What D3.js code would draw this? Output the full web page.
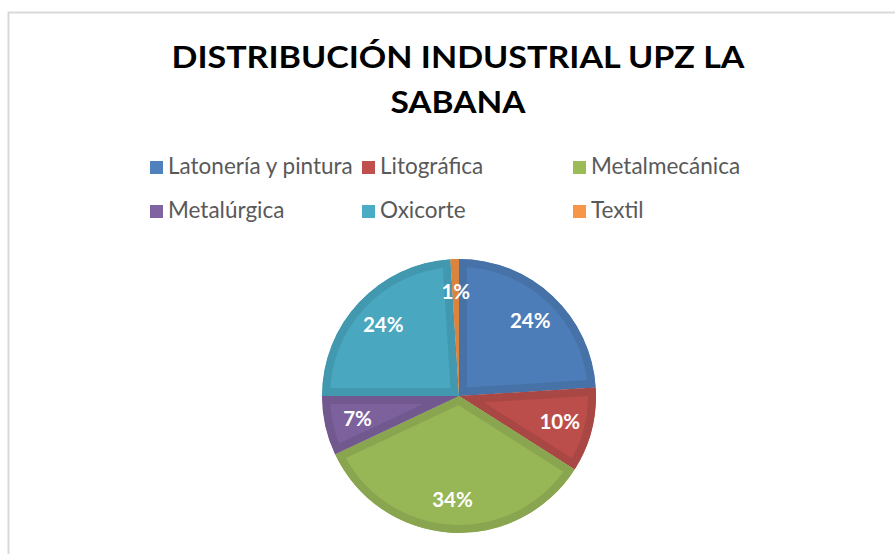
<!DOCTYPE html>
<html><head><meta charset="utf-8">
<script src="https://cdn.jsdelivr.net/npm/d3@7"></script>
<style>
html,body{margin:0;padding:0;background:#fff;}
svg{display:block;}
</style></head>
<body>
<svg id="chart" width="895" height="554"></svg>
<script>
const titleLines = ["DISTRIBUCIÓN INDUSTRIAL UPZ LA", "SABANA"];
const categories = ["Latonería y pintura", "Litográfica", "Metalmecánica", "Metalúrgica", "Oxicorte", "Textil"];
const values = [24, 10, 34, 7, 24, 1];
const colors = ["#4F81BD", "#C0504D", "#9BBB59", "#8064A2", "#4BACC6", "#F79646"];

const svg = d3.select("#chart");

// outer chart border
svg.append("rect").attr("x", 8.5).attr("y", 12.5).attr("width", 900).attr("height", 600)
  .attr("fill", "#fff").attr("stroke", "#d9d9d9").attr("stroke-width", 2);

// title
const titleWidths = [573, 135];
titleLines.forEach((t, i) => {
  svg.append("text").attr("text-anchor", "middle")
    .attr("font-family", "Lato, 'Open Sans', sans-serif").attr("font-weight", "bold")
    .attr("font-size", 30).attr("fill", "#000")
    .attr("x", 458).attr("y", 68 + i * 45)
    .attr("textLength", titleWidths[i]).attr("lengthAdjust", "spacingAndGlyphs")
    .text(t);
});

// legend
const legendCols = [150, 362, 573];
const legendRows = [174, 218];
const lg = svg.append("g");
categories.forEach((c, i) => {
  const x = legendCols[i % 3], y = legendRows[Math.floor(i / 3)];
  lg.append("rect").attr("x", x).attr("y", y - 13).attr("width", 13).attr("height", 13).attr("fill", colors[i]);
  lg.append("text").attr("x", x + 18).attr("y", y)
    .attr("font-family", "Lato, 'Open Sans', sans-serif").attr("font-size", 22.5)
    .attr("fill", "#595959").text(c);
});

// pie
const cx = 459, cy = 396, R = 137, band = 8;
const total = d3.sum(values);
const pie = d3.pie().sort(null).value(d => d)(values);
const arc = d3.arc().innerRadius(0).outerRadius(R);
const labelArc = d3.arc().innerRadius(104).outerRadius(104);
const g = svg.append("g").attr("transform", `translate(${cx},${cy})`);
const defs = svg.append("defs");

pie.forEach((d, i) => {
  const p = arc(d);
  defs.append("clipPath").attr("id", "clip" + i).append("path").attr("d", p);
  const base = d3.color(colors[i]);
  const fill = base.darker(0.08);
  const dark = base.darker(0.35);
  g.append("path").attr("d", p).attr("fill", fill.formatHex())
    .attr("stroke", dark.formatHex()).attr("stroke-width", band * 2)
    .attr("clip-path", `url(#clip${i})`);
});

pie.forEach((d, i) => {
  const [lx, ly] = labelArc.centroid(d);
  g.append("text").attr("x", lx).attr("y", ly).attr("dy", "0.36em")
    .attr("text-anchor", "middle")
    .attr("font-family", "Lato, 'Open Sans', sans-serif").attr("font-weight", "bold")
    .attr("font-size", 20.5).attr("fill", "#fff")
    .text(Math.round(d.value / total * 100) + "%");
});
</script>
</body></html>
